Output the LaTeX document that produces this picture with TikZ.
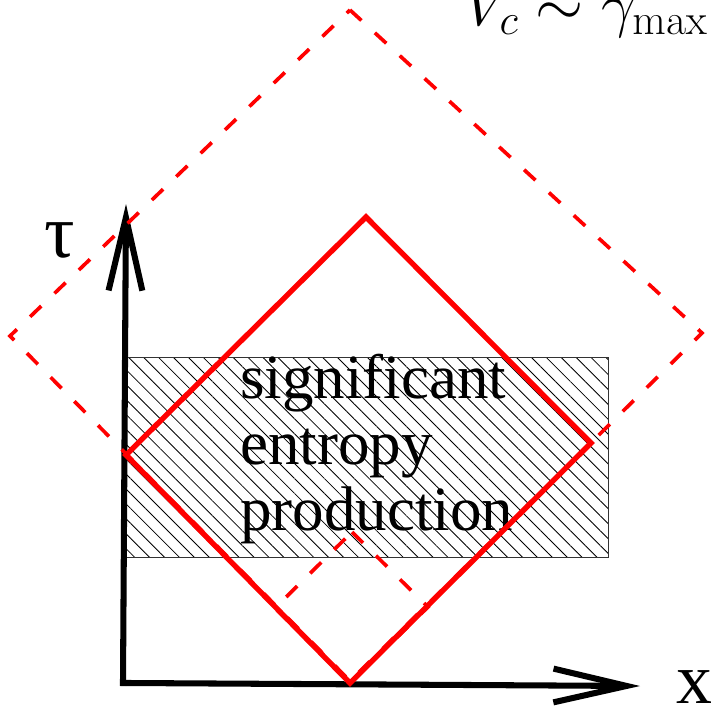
\RequirePackage{fix-cm}
\documentclass[tikz,border=0pt]{standalone}
\usepackage[no-math]{fontspec}
\setmainfont{Liberation Serif}
\usepackage{tikz}
\usetikzlibrary{arrows.meta,patterns.meta,positioning}
\definecolor{LightRed}{RGB}{255,0,0}

\begin{document}
\begin{tikzpicture}[x=0.025cm, y=-0.025cm,
      axis/.style={line width=4.3pt, -{Straight Barb[length=52pt,width=24pt]}},
      cone/.style={draw=LightRed, line width=3.8pt, line join=miter},
      lightcone/.style={draw=LightRed, line width=2.6pt, dash pattern=on 11pt off 13pt},
      hatched/.style={draw=black!80, line width=0.5pt, pattern={Lines[angle=-45,distance=7.5pt,line width=0.6pt]}},
      label/.style={inner sep=0pt}
    ]
      \useasboundingbox (0,0) rectangle (716,706);
      % region of entropy production
      \path[hatched] (126,357) rectangle (608,557);
      \node[label, anchor=north west, align=left, font=\fontsize{44.8}{47}\selectfont] (txt) at (240,354)
        {significant\\entropy\\production};
      % axes
      \coordinate (O) at (126,686);
      \draw[axis] ([xshift=-2.15pt]O) -- (126,204);
      \draw[axis] ([yshift=2.15pt]O) -- (640,686);
      \node[label, anchor=center, font=\fontsize{54}{60}\selectfont] (tau) at (60,240) {τ};
      \node[label, anchor=base west, font=\fontsize{51}{55}\selectfont] (xlab) at (676,703) {x};
      \node[label, anchor=base west, font=\fontsize{44}{48}\selectfont] (vc) at (464,25) {$V_c\sim\gamma_{\max}$};
      % cones
      \draw[lightcone] (350,10) -- (702,333) -- (350,681) -- (10,336) -- cycle;
      \draw[lightcone] (352,532) -- (428,607) -- (350,683) -- (275,608) -- cycle;
      \draw[cone] (366,217) -- (591,443) -- (350,683) -- (126,455) -- cycle;
    \end{tikzpicture}
\end{document}
